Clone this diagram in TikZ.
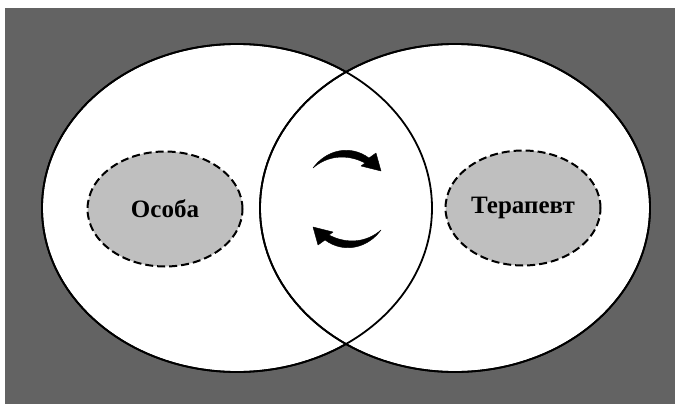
\documentclass[tikz,border=0pt]{standalone}
\usepackage{fontspec}
\setmainfont{Liberation Serif}
\usetikzlibrary{shapes.geometric}
\definecolor{bggray}{RGB}{99,99,99}
\definecolor{innergray}{RGB}{191,191,191}
\tikzset{
  bigcircle/.style={ellipse, draw=black, line width=1.8pt, fill=white, minimum width=390pt, minimum height=328pt, inner sep=0pt},
  bigline/.style={ellipse, draw=black, line width=1.8pt, minimum width=390pt, minimum height=328pt, inner sep=0pt},
  rolebox/.style={ellipse, draw=black, dash pattern=on 8pt off 4pt, line width=2pt, fill=innergray, minimum width=155pt, minimum height=115pt, inner sep=0pt, font=\fontsize{25}{28}\selectfont\bfseries},
  turnarrow/.style={fill=black, draw=black, line width=0.4pt, line join=round}
}
\begin{document}
\begin{tikzpicture}[x=1pt,y=-1pt]
\useasboundingbox (0,0) rectangle (675,404);
\fill[white] (0,0) rectangle (675,404);
\fill[bggray] (5,8) rectangle (675,404);
% filled big ellipses
\node[bigcircle] (left) at (237,208) {};
\node[bigcircle] (right) at (455,208) {};
% outlines again so both are visible in the lens
\node[bigline] (leftline) at (237,208) {};
\node[bigline] (rightline) at (455,208) {};
% inner dashed ellipses with labels
\node[rolebox] (person) at (165,209) {Особа};
\node[rolebox] (therapist) at (523,208) {Терапевт};
% curved arrows
\fill[turnarrow] (313,168) .. controls (326,150) and (350,144) .. (369,158)
  -- (376,153) -- (381,171) -- (361,166) -- (365,163)
  .. controls (348,154) and (328,155) .. (313,168) -- cycle;
\begin{scope}[rotate around={180:(347,199)}]
\fill[turnarrow] (313,168) .. controls (326,150) and (350,144) .. (369,158)
  -- (376,153) -- (381,171) -- (361,166) -- (365,163)
  .. controls (348,154) and (328,155) .. (313,168) -- cycle;
\end{scope}
\end{tikzpicture}
\end{document}
